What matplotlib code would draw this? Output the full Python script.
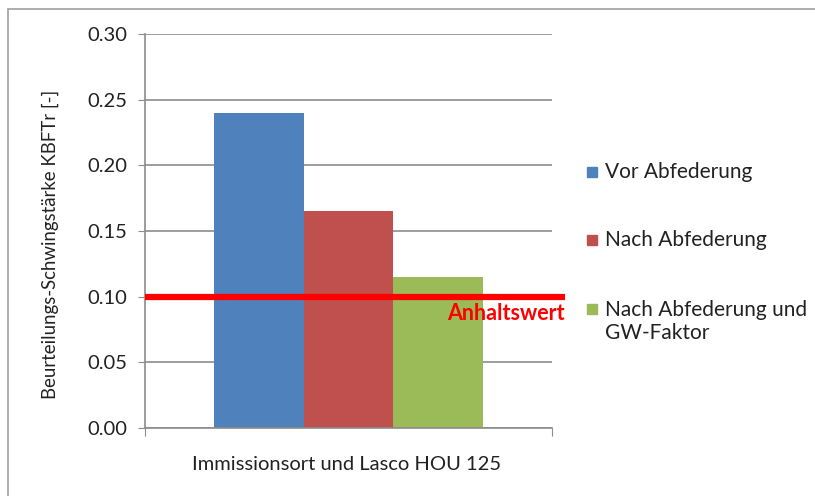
import matplotlib.pyplot as plt
from matplotlib.patches import Rectangle
from matplotlib.transforms import blended_transform_factory

# data
category = "Immissionsort und Lasco HOU 125"
series = ["Vor Abfederung", "Nach Abfederung", "Nach Abfederung und\nGW-Faktor"]
values = [0.24, 0.165, 0.115]
colors = ["#4F81BD", "#C0504D", "#9BBB59"]
threshold = 0.10
threshold_label = "Anhaltswert"
yticks = [0.00, 0.05, 0.10, 0.15, 0.20, 0.25, 0.30]

plt.rcParams['font.family'] = ['Lato', 'DejaVu Sans']

fig = plt.figure(figsize=(8.15, 4.96), dpi=100)
ax = fig.add_axes([145 / 815, 1 - 428 / 496, 407 / 815, 394 / 496])

# outer chart frame (only top and left visible)
fig.patches.append(Rectangle((8 / 815, -0.1), 1.2, 1 - 9 / 496 + 0.1,
                             transform=fig.transFigure, fill=False,
                             edgecolor="#a0a0a0", linewidth=1.2))

bw = 0.22
for i, (v, c) in enumerate(zip(values, colors)):
    ax.bar((i - 1) * bw, v, width=bw, color=c, zorder=2)

ax.set_xlim(-0.5, 0.5)
ax.set_ylim(0, 0.30)
ax.set_yticks(yticks)
ax.set_yticklabels([f"{t:.2f}" for t in yticks], fontsize=14.5, color="#222222")
ax.yaxis.grid(True, color="#8c8c8c", linewidth=1.2, zorder=0)
ax.set_axisbelow(True)

ax.set_xticks([-0.5, 0.5])
ax.set_xticklabels(["", ""])
ax.tick_params(axis='x', length=6, color="#8c8c8c", direction='out')
ax.tick_params(axis='y', length=5, color="#8c8c8c", direction='out', pad=8)

for s in ["top", "right"]:
    ax.spines[s].set_visible(False)
for s in ["left", "bottom"]:
    ax.spines[s].set_color("#8c8c8c")
    ax.spines[s].set_linewidth(1.2)

ax.set_xlabel(category, fontsize=14.5, color="#222222")
ax.xaxis.set_label_coords(0.495, -0.072)
ax.set_ylabel("Beurteilungs-Schwingstärke KBFTr [-]", fontsize=13.4, color="#222222")
ax.yaxis.set_label_coords(-0.212, 0.467)

# threshold line extending past the plot area
tr = blended_transform_factory(ax.transAxes, ax.transData)
ax.plot([0, 1.032], [threshold, threshold], color="#FF0000", linewidth=4.5,
        transform=tr, clip_on=False, zorder=5, solid_capstyle='butt')
ax.text(1.032, threshold - 0.005, threshold_label, transform=tr, ha='right', va='top',
        color="#FF0000", fontsize=15.5, fontweight='bold', zorder=6)

# legend drawn by hand to keep Excel-like spacing
leg_y = [172, 240, 309]
for name, c, y in zip(series, colors, leg_y):
    fig.patches.append(Rectangle((587 / 815, 1 - (y + 5) / 496), 10 / 815, 10 / 496,
                                 transform=fig.transFigure, color=c))
    ty = y + 12.5 * name.count("\n")
    fig.text(605 / 815, 1 - ty / 496, name, fontsize=15, color="#222222",
             va='center', linespacing=1.2)

fig.savefig("out.png", dpi=100)
